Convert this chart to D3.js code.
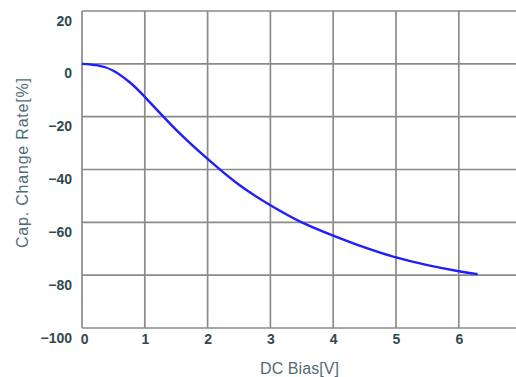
<!DOCTYPE html>
<html>
<head>
<meta charset="utf-8">
<script src="https://cdn.jsdelivr.net/npm/d3@7"></script>
<style>
  body { margin: 0; background: #fff; }
  svg { display: block; }
  .tick text { font-family: "Liberation Sans", Arial, sans-serif; font-weight: bold; font-size: 14px; fill: #2e4a52; }
  .title { font-family: "Liberation Sans", Arial, sans-serif; font-size: 16px; fill: #4f6c72; }
</style>
</head>
<body>
<svg id="chart"></svg>
<script>
// DC bias characteristic
const volts = [0, 0.25, 0.5, 0.75, 1, 1.5, 2, 2.5, 3, 3.5, 4, 4.5, 5, 5.5, 6, 6.3];
const rate = [0, -0.6, -2.6, -6.8, -12.5, -25, -36, -45.8, -53.5, -60, -65, -69.5, -73.3, -76.2, -78.5, -79.6];

const xTicks = [0, 1, 2, 3, 4, 5, 6];
const yTicks = [20, 0, -20, -40, -60, -80, -100];
const xGrid = [0, 1, 2, 3, 4, 5, 6, 7];

let width = 516, height = 377;
let mLeft = 82, mTop = 11, mBottom = 328;

let svg = d3.select("#chart")
    .attr("width", width)
    .attr("height", height);

let x = d3.scaleLinear().domain([0, 7]).range([mLeft, mLeft + 7 * 62.8]);
let y = d3.scaleLinear().domain([-100, 20]).range([mBottom, mTop]);

// grid
let grid = svg.append("g").attr("stroke", "#8a8a8a").attr("stroke-width", 1.7);
grid.selectAll("line.h").data(yTicks).enter().append("line")
    .attr("class", "h")
    .attr("x1", mLeft).attr("x2", width)
    .attr("y1", d => y(d)).attr("y2", d => y(d));
grid.selectAll("line.v").data(xGrid).enter().append("line")
    .attr("class", "v")
    .attr("x1", d => x(d)).attr("x2", d => x(d))
    .attr("y1", mTop).attr("y2", mBottom);

// tick labels
let yAxis = svg.append("g")
    .attr("transform", `translate(${mLeft},0)`)
    .call(d3.axisLeft(y).tickValues(yTicks).tickFormat(d3.format("d")).tickSize(0).tickPadding(10));
yAxis.select(".domain").remove();
yAxis.selectAll("text").attr("dy", "1.0em");

let xAxis = svg.append("g")
    .attr("transform", `translate(0,${mBottom})`)
    .call(d3.axisBottom(x).tickValues(xTicks).tickFormat(d3.format("d")).tickSize(0).tickPadding(6));
xAxis.select(".domain").remove();
xAxis.selectAll("text").attr("dx", (d) => d == 0 ? "0.15em" : 0);

// curve
let pts = volts.map((v, i) => [v, rate[i]]);
let line = d3.line()
    .x(d => x(d[0]))
    .y(d => y(d[1]))
    .curve(d3.curveNatural);
svg.append("path")
    .datum(pts)
    .attr("d", line)
    .attr("fill", "none")
    .attr("stroke", "#1e1eff")
    .attr("stroke-width", 2.4);

// titles
svg.append("text").attr("class", "title")
    .attr("x", 260).attr("y", 374)
    .attr("textLength", 79)
    .text("DC Bias[V]");

svg.append("text").attr("class", "title")
    .attr("transform", "translate(28,248) rotate(-90)")
    .attr("textLength", 170)
    .text("Cap. Change Rate[%]");
</script>
</body>
</html>
